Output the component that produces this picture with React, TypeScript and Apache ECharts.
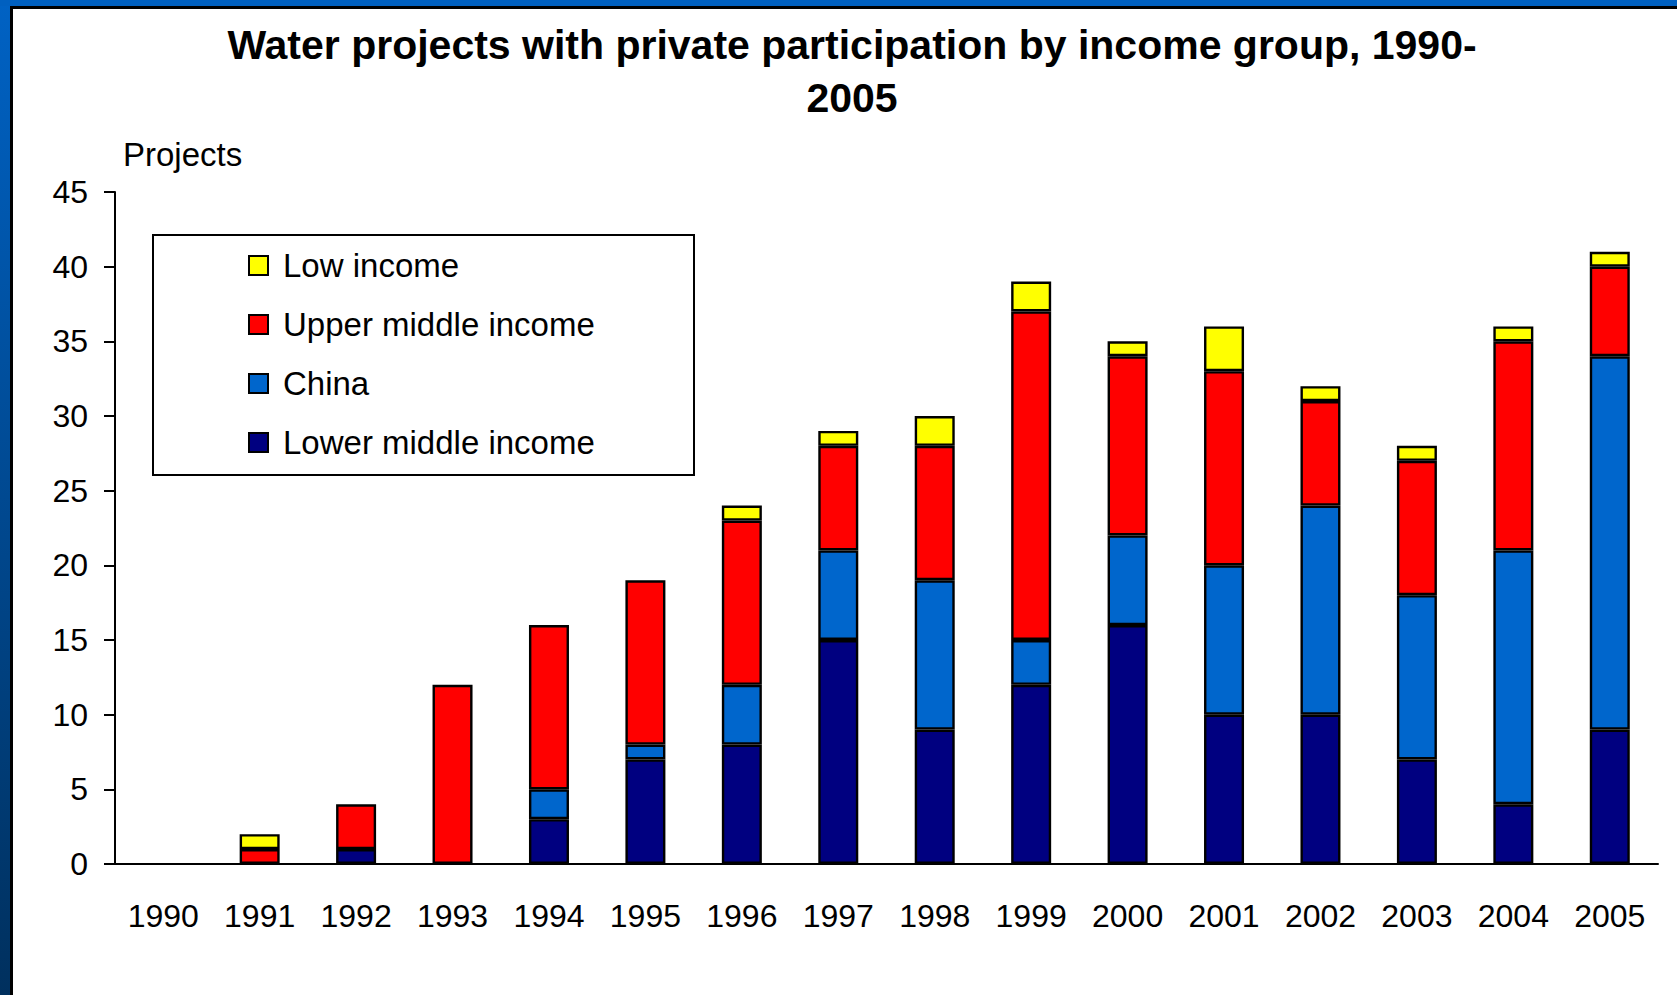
import React, { useEffect, useRef } from "react";
import * as echarts from "echarts";

const years = ["1990", "1991", "1992", "1993", "1994", "1995", "1996", "1997", "1998", "1999", "2000", "2001", "2002", "2003", "2004", "2005"];
const lowerMiddle = [0, 0, 1, 0, 3, 7, 8, 15, 9, 12, 16, 10, 10, 7, 4, 9];
const china = [0, 0, 0, 0, 2, 1, 4, 6, 10, 3, 6, 10, 14, 11, 17, 25];
const upperMiddle = [0, 1, 3, 12, 11, 11, 11, 7, 9, 22, 12, 13, 7, 9, 14, 6];
const lowIncome = [0, 1, 0, 0, 0, 0, 1, 1, 2, 2, 1, 3, 1, 1, 1, 1];
const yTicks = [0, 5, 10, 15, 20, 25, 30, 35, 40, 45];

const FONT = "'Liberation Sans', Arial, sans-serif";

const nz = (arr: number[]) => arr.map((v) => (v === 0 ? null : v));

export default function App() {
  const ref = useRef<HTMLDivElement>(null);
  useEffect(() => {
    if (!ref.current) return;
    const chart = echarts.init(ref.current, null, { renderer: "svg" });
    const barBase = {
      type: "bar" as const,
      stack: "total",
      barWidth: 40,
      itemStyle: { borderColor: "#000", borderWidth: 2.4 },
    };
    chart.setOption({
      animation: false,
      backgroundColor: "#ffffff",
      textStyle: { fontFamily: FONT },
      title: {
        text: "Water projects with private participation by income group, 1990-\n2005",
        left: 852,
        top: 18,
        padding: 0,
        textAlign: "center",
        textStyle: { fontSize: 41, fontWeight: "bold", color: "#000", lineHeight: 53, fontFamily: FONT },
      },
      graphic: [
        {
          type: "rect",
          shape: { x: 0, y: 0, width: 10, height: 995 },
          style: {
            fill: new echarts.graphic.LinearGradient(0, 0, 0, 1, [
              { offset: 0, color: "#0062c4" },
              { offset: 1, color: "#00305e" },
            ]),
          },
          z: -10,
        },
        { type: "rect", shape: { x: 0, y: 0, width: 1677, height: 6 }, style: { fill: "#0060c0" }, z: -10 },
        { type: "rect", shape: { x: 10, y: 6, width: 3, height: 989 }, style: { fill: "#000" }, z: -9 },
        { type: "rect", shape: { x: 10, y: 6, width: 1667, height: 3 }, style: { fill: "#000" }, z: -9 },
        {
          type: "rect",
          shape: { x: 153, y: 235, width: 541, height: 240 },
          style: { fill: "#fff", stroke: "#000", lineWidth: 2 },
          z: -5,
        },
      ],
      legend: {
        orient: "vertical",
        left: 248,
        top: 249,
        padding: 0,
        itemWidth: 19,
        itemHeight: 19,
        itemGap: 26,
        icon: "rect",
        data: ["Low income", "Upper middle income", "China", "Lower middle income"],
        itemStyle: { borderColor: "#000", borderWidth: 2 },
        textStyle: { fontSize: 33, lineHeight: 32, color: "#000", fontFamily: FONT, padding: [0, 0, 0, 10] },
      },
      grid: { left: 115, right: 19, top: 192, bottom: 131, containLabel: false },
      xAxis: {
        type: "category",
        data: years,
        axisLine: { lineStyle: { color: "#000", width: 2 } },
        axisTick: { show: false },
        axisLabel: { fontSize: 32, color: "#000", margin: 36, fontFamily: FONT },
      },
      yAxis: {
        type: "value",
        min: yTicks[0],
        max: yTicks[yTicks.length - 1],
        interval: 5,
        name: "Projects",
        nameLocation: "end",
        nameGap: 21,
        nameTextStyle: { fontSize: 33, color: "#000", align: "left", fontFamily: FONT, padding: [0, 0, 0, 8] },
        axisLine: { show: true, lineStyle: { color: "#000", width: 2 } },
        axisTick: { show: true, length: 11, lineStyle: { color: "#000", width: 2 } },
        axisLabel: { fontSize: 32, color: "#000", margin: 27, fontFamily: FONT },
        splitLine: { show: false },
      },
      series: [
        { ...barBase, name: "Lower middle income", data: nz(lowerMiddle), itemStyle: { ...barBase.itemStyle, color: "#000080" } },
        { ...barBase, name: "China", data: nz(china), itemStyle: { ...barBase.itemStyle, color: "#0066cc" } },
        { ...barBase, name: "Upper middle income", data: nz(upperMiddle), itemStyle: { ...barBase.itemStyle, color: "#ff0000" } },
        { ...barBase, name: "Low income", data: nz(lowIncome), itemStyle: { ...barBase.itemStyle, color: "#ffff00" } },
      ],
    });
    return () => chart.dispose();
  }, []);
  return <div ref={ref} style={{ position: "absolute", left: 0, top: 0, width: 1677, height: 995 }} />;
}
